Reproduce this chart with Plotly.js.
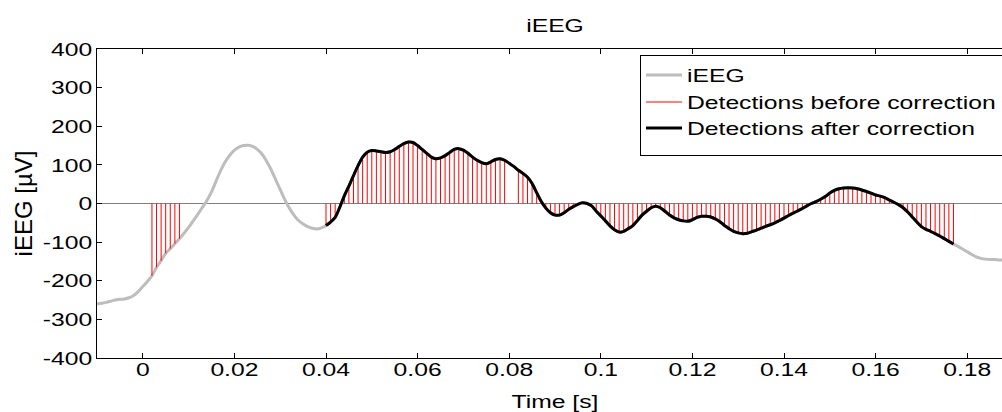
<!DOCTYPE html>
<html>
<head>
<meta charset="utf-8">
<script src="https://cdn.plot.ly/plotly-3.0.1.min.js"></script>
<style>
  html, body { margin: 0; padding: 0; background: #fff; overflow: hidden; width: 1002px; height: 412px; }
  #chart { width: 1040px; height: 412px; }
</style>
</head>
<body>
<div id="chart"></div>
<script>
// ---- data ----
const startTime = -0.010;      // s, time of first sample
const sampleInterval = 0.001;  // s (1 kHz sampling)

// iEEG samples in µV, one per ms from -0.010 s to 0.190 s
const ieegValues = [
  -260,-258,-256,-253,-250,-248,-247,-244,-238,-228,
  -215,-202,-187,-165,-148,-129,-117,-104,-91,-77,
  -62,-45,-28,-10,8,30,58,85,108,125,
  138,146,150,151,148,140,128,110,88,62,
  36,10,-12,-30,-44,-53,-60,-64,-66,-63,
  -57,-48,-36,-10,20,45,72,98,120,133,
  137,136,134,132,134,140,148,155,159,158,
  150,140,130,120,116,118,124,132,140,142,
  138,130,120,112,106,103,108,114,116,112,
  104,96,86,78,68,52,28,5,-12,-24,
  -30,-30,-24,-15,-8,-2,2,0,-6,-20,
  -32,-45,-58,-68,-74,-72,-65,-57,-44,-30,
  -20,-11,-7,-11,-20,-30,-37,-42,-45,-46,
  -42,-36,-33,-33,-35,-40,-47,-57,-65,-72,
  -76,-78,-77,-73,-69,-64,-59,-55,-50,-44,
  -38,-31,-25,-19,-13,-6,0,5,11,18,
  27,34,38,40,41,40,38,35,31,27,
  22,19,15,9,3,-3,-11,-22,-35,-48,
  -60,-67,-72,-78,-84,-91,-98,-105,-111,-118,
  -125,-132,-138,-142,-144,-145,-145,-146,-146,-147,
  -147
];

// detection intervals [start, end] in s
const detectionsBefore = [[0.002, 0.008], [0.040, 0.079], [0.082, 0.177]];
const detectionsAfter = [[0.040, 0.177]];

const seriesNames = ['iEEG', 'Detections before correction', 'Detections after correction'];
const xTickValues = [0, 0.02, 0.04, 0.06, 0.08, 0.1, 0.12, 0.14, 0.16, 0.18];
const xTickLabels = ['0', '0.02', '0.04', '0.06', '0.08', '0.1', '0.12', '0.14', '0.16', '0.18'];
const yTickValues = [-400, -300, -200, -100, 0, 100, 200, 300, 400];
const yTickLabels = ['-400', '-300', '-200', '-100', '0', '100', '200', '300', '400'];

// ---- build ----
const timeOf = i => startTime + i * sampleInterval;
const idxOf = t => Math.round((t - startTime) / sampleInterval);
const time = ieegValues.map((_, i) => timeOf(i));

const stemX = [], stemY = [];
detectionsBefore.forEach(([a, b]) => {
  for (let i = idxOf(a); i <= idxOf(b); i++) {
    stemX.push(time[i], time[i], null);
    stemY.push(0, ieegValues[i], null);
  }
});

const afterX = [], afterY = [];
detectionsAfter.forEach(([a, b], k) => {
  if (k > 0) { afterX.push(null); afterY.push(null); }
  for (let i = idxOf(a); i <= idxOf(b); i++) { afterX.push(time[i]); afterY.push(ieegValues[i]); }
});

const FONT = 'Liberation Sans, Arial, sans-serif';
const TXT = 19;        // horizontal text size
const STRETCH = 1.3;   // the reference renders its Helvetica noticeably wide

const traces = [
  { x: time, y: ieegValues, name: seriesNames[0], type: 'scatter', mode: 'lines',
    line: { color: '#bdbdbd', width: 3, shape: 'spline', smoothing: 0.8 } },
  { x: stemX, y: stemY, name: seriesNames[1], type: 'scatter', mode: 'lines',
    line: { color: '#ff0000', width: 1 }, connectgaps: false },
  { x: afterX, y: afterY, name: seriesNames[2], type: 'scatter', mode: 'lines',
    line: { color: '#000000', width: 3, shape: 'spline', smoothing: 0.8 } }
];

const layout = {
  width: 1040, height: 412,
  margin: { l: 97, r: 27, t: 49, b: 54 },
  paper_bgcolor: '#ffffff', plot_bgcolor: '#ffffff',
  font: { family: FONT, color: '#000', size: TXT },
  title: { text: 'iEEG', x: 0.5, xref: 'paper', xanchor: 'center',
           y: 1 - 25 / 412, yref: 'container', yanchor: 'middle',
           font: { family: FONT, size: TXT, color: '#000' } },
  xaxis: {
    range: [-0.01, 0.19], tickmode: 'array', tickvals: xTickValues, ticktext: xTickLabels,
    ticks: 'inside', ticklen: 5, tickcolor: '#000', tickwidth: 1,
    showline: true, linecolor: '#000', linewidth: 1, mirror: 'ticks',
    showgrid: false, zeroline: false,
    tickfont: { family: FONT, size: TXT },
    title: { text: 'Time [s]', font: { family: FONT, size: TXT }, standoff: 9 }
  },
  yaxis: {
    range: [-400, 400], tickmode: 'array', tickvals: yTickValues, ticktext: yTickLabels,
    ticks: 'inside', ticklen: 5, tickcolor: '#000', tickwidth: 1,
    showline: true, linecolor: '#000', linewidth: 1, mirror: 'ticks',
    showgrid: false, zeroline: true, zerolinecolor: '#7f7f7f', zerolinewidth: 1.5,
    tickfont: { family: FONT, size: TXT },
    title: { text: 'iEEG [µV]', font: { family: FONT, size: 24 }, standoff: 14 }
  },
  showlegend: true,
  legend: {
    x: (640 - 97) / 916, y: (358 - 55) / 309, xanchor: 'left', yanchor: 'top',
    bgcolor: '#ffffff', bordercolor: '#000', borderwidth: 1,
    font: { family: FONT, size: TXT, color: '#000' },
    itemwidth: 36, tracegroupgap: 0
  }
};

function widenText(gd) {
  // stretch horizontal texts about their anchor so their widths match the reference
  gd.querySelectorAll('svg text').forEach(el => {
    if (el.classList.contains('ytitle')) return;
    const x = parseFloat(el.getAttribute('x')) || 0;
    const y = parseFloat(el.getAttribute('y')) || 0;
    let tr = el.getAttribute('transform') || '';
    if (el.closest('.xtick')) tr = 'translate(0,-6) ' + tr;   // labels sit closer to the axis
    el.setAttribute('transform',
      `${tr} translate(${x},${y}) scale(${STRETCH},1) translate(${-x},${-y})`);
  });
  // legend: reference row pitch and a box that runs past the right edge
  const rowOffsets = [20, 47, 73];
  const rows = gd.querySelectorAll('.legend .traces');
  rows.forEach((g, i) => {
    const m = /translate\(([-\d.]+)/.exec(g.getAttribute('transform') || '');
    const tx = m ? parseFloat(m[1]) : 0;
    g.setAttribute('transform', `translate(${tx},${rowOffsets[i] !== undefined ? rowOffsets[i] : 20 + i * 26.5})`);
  });
  const bg = gd.querySelector('.legend rect.bg');
  if (bg) { bg.setAttribute('width', 420); bg.setAttribute('height', 100); }
  gd.querySelectorAll('clipPath').forEach(cp => {
    if ((cp.id || '').indexOf('legend') >= 0) {
      cp.querySelectorAll('rect').forEach(r => { r.setAttribute('width', 420); r.setAttribute('height', 100); });
    }
  });
}

Plotly.newPlot('chart', traces, layout, { staticPlot: true, displayModeBar: false })
  .then(gd => widenText(gd));
</script>
</body>
</html>
